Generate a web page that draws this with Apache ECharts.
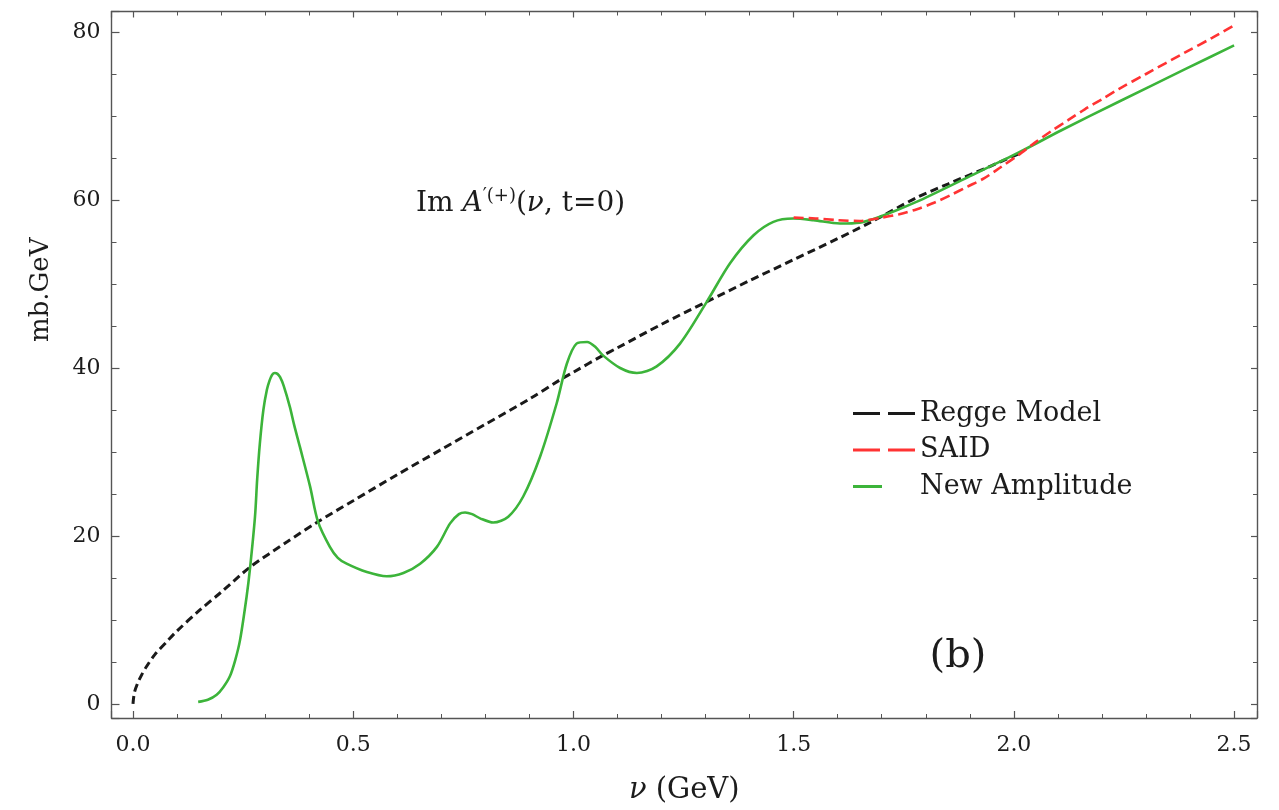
<!DOCTYPE html>
<html>
<head>
<meta charset="utf-8">
<title>Im A'(+)(ν, t=0)</title>
<script src="https://cdn.jsdelivr.net/npm/echarts@6/dist/echarts.min.js"></script>
<style>
  html, body { margin: 0; padding: 0; background: #ffffff; }
  #chart { width: 1279px; height: 810px; }
</style>
</head>
<body>
<div id="chart"></div>
<script>
// Regge model (black dashed)
const reggeNu  = [0, 0.003, 0.01, 0.02, 0.03, 0.05, 0.08, 0.1, 0.15, 0.2, 0.266, 0.35, 0.42, 0.5, 0.6, 0.7, 0.8, 0.9, 0.97, 1.0, 1.067, 1.1, 1.2, 1.303, 1.4, 1.5, 1.6, 1.673, 1.78, 1.85, 1.95, 2.015];
const reggeVal = [0, 1.3, 2.4, 3.5, 4.4, 5.9, 7.6, 8.7, 11.1, 13.3, 16.3, 19.3, 21.7, 24.2, 27.3, 30.3, 33.3, 36.3, 38.6, 39.5, 41.5, 42.4, 45.2, 47.9, 50.4, 52.9, 55.4, 57.3, 60.3, 61.9, 64.1, 65.6];

// SAID (red dashed)
const saidNu  = [1.5, 1.55, 1.6, 1.65, 1.7, 1.74, 1.78, 1.82, 1.857, 1.895, 1.933, 1.97, 2.009, 2.047, 2.085, 2.123, 2.161, 2.2, 2.238, 2.3, 2.39, 2.45, 2.5];
const saidVal = [57.9, 57.8, 57.6, 57.5, 57.9, 58.3, 58.9, 59.7, 60.6, 61.6, 62.6, 63.9, 65.3, 66.8, 68.2, 69.5, 70.8, 72.0, 73.2, 75.0, 77.6, 79.3, 80.8];

// New amplitude (green solid)
const newAmpNu  = [0.148, 0.17, 0.19, 0.205, 0.22, 0.232, 0.243, 0.258, 0.266, 0.277, 0.282, 0.288, 0.296, 0.304, 0.31, 0.316, 0.322, 0.328, 0.334, 0.342, 0.356, 0.366, 0.379, 0.402, 0.42, 0.447, 0.465, 0.485, 0.531, 0.576, 0.614, 0.652, 0.69, 0.72, 0.74, 0.754, 0.77, 0.788, 0.818, 0.852, 0.886, 0.924, 0.962, 0.985, 1.007, 1.031, 1.05, 1.067, 1.106, 1.144, 1.189, 1.242, 1.303, 1.356, 1.409, 1.454, 1.499, 1.545, 1.605, 1.65, 1.696, 1.78, 1.895, 2.009, 2.108, 2.238, 2.39, 2.5];
const newAmpVal = [0.25, 0.5, 1.1, 2.0, 3.3, 5.2, 7.6, 12.8, 16.3, 22.3, 26.8, 31.0, 35.0, 37.4, 38.5, 39.2, 39.4, 39.3, 38.9, 37.9, 35.4, 33.2, 30.6, 25.9, 21.7, 18.7, 17.4, 16.7, 15.7, 15.2, 15.6, 16.7, 18.7, 21.5, 22.6, 22.8, 22.6, 22.1, 21.6, 22.3, 24.7, 29.4, 35.8, 40.5, 42.9, 43.1, 42.5, 41.5, 40.0, 39.4, 40.2, 42.9, 47.9, 52.5, 55.8, 57.4, 57.8, 57.6, 57.2, 57.3, 58.0, 59.8, 62.7, 65.6, 68.3, 71.7, 75.6, 78.4];

// Axis ranges and labels
const xRange = [-0.0488, 2.552];
const yRange = [-1.67, 82.44];
const xTickLabels = [0.0, 0.5, 1.0, 1.5, 2.0, 2.5];
const yTickLabels = [0, 20, 40, 60, 80];
const legendNames = ['Regge Model', 'SAID', 'New Amplitude'];

const zip = (a, b) => a.map((v, i) => [v, b[i]]);

const FONT = 'DejaVu Serif';
const FRAME = '#555555';
const TEXT = '#1c1c1c';

function isTick(list, v) {
  return list.some(t => Math.abs(t - v) < 1e-6);
}

// legend keys: two long dashes, or one short solid stroke (the trailing
// zero-width box keeps the key 62 px wide so all keys line up)
const ICON_DASHED = 'path://M0,0h27v3h-27z M35,0h27v3h-27z';
const ICON_SHORT  = 'path://M0,0h29v3h-29z M62,0h0v3h0z';

const frameAxisCommon = {
  type: 'value',
  axisLine: { show: true, onZero: false, lineStyle: { color: FRAME, width: 1.4 } },
  splitLine: { show: false },
};

const chart = echarts.init(document.getElementById('chart'), null, { renderer: 'canvas' });

chart.setOption({
  animation: false,
  backgroundColor: '#ffffff',
  title: {
    left: 416,
    top: 187,
    padding: 0,
    text: '{n|Im }{i|A}{s|\u2032(+)}{n|(}{i|\u03bd}{n|, t=0)}',
    textStyle: {
      fontWeight: 'normal',
      rich: {
        n: { fontFamily: FONT, fontSize: 28, fontWeight: 'normal', color: TEXT, lineHeight: 33, verticalAlign: 'middle' },
        i: { fontFamily: FONT, fontSize: 28, fontWeight: 'normal', fontStyle: 'italic', color: TEXT, lineHeight: 33, verticalAlign: 'middle' },
        s: { fontFamily: FONT, fontSize: 18, fontWeight: 'normal', color: TEXT, lineHeight: 18, verticalAlign: 'top' }
      }
    }
  },
  grid: {
    left: 111.5, right: 22, top: 11.5, bottom: 92,
    containLabel: false, outerBoundsMode: 'none'
  },
  legend: {
    orient: 'vertical',
    left: 853,
    top: 400,
    padding: 0,
    itemWidth: 62,
    itemHeight: 3,
    itemGap: 9.5,
    itemTextGap: 33,
    selectedMode: false,
    itemStyle: { borderWidth: 0 },
    textStyle: { fontFamily: FONT, fontSize: 27, color: TEXT },
    data: [
      { name: legendNames[0], icon: ICON_DASHED },
      { name: legendNames[1], icon: ICON_DASHED },
      { name: legendNames[2], icon: ICON_SHORT }
    ]
  },
  xAxis: [
    Object.assign({}, frameAxisCommon, {
      position: 'bottom',
      min: xRange[0], max: xRange[1],
      splitNumber: 5,
      axisTick: { show: true, inside: true, length: 7, lineStyle: { color: FRAME, width: 1.2 } },
      minorTick: { show: true, splitNumber: 5, length: 4, lineStyle: { color: FRAME, width: 1 } },
      axisLabel: {
        margin: 16, fontFamily: FONT, fontSize: 22, color: TEXT,
        showMinLabel: false, showMaxLabel: false,
        formatter: v => isTick(xTickLabels, v) ? v.toFixed(1) : ''
      },
      name: '{i|\u03bd} (GeV)',
      nameLocation: 'middle',
      nameGap: 58,
      nameTextStyle: {
        fontFamily: FONT, fontSize: 29, color: TEXT,
        rich: { i: { fontFamily: FONT, fontSize: 29, fontStyle: 'italic', color: TEXT } }
      }
    }),
    Object.assign({}, frameAxisCommon, {
      position: 'top',
      min: xRange[0], max: xRange[1],
      splitNumber: 5,
      axisTick: { show: true, inside: true, length: 6, lineStyle: { color: FRAME, width: 1.2 } },
      minorTick: { show: true, splitNumber: 5, length: 4, lineStyle: { color: FRAME, width: 1 } },
      axisLabel: { show: false }
    })
  ],
  yAxis: [
    Object.assign({}, frameAxisCommon, {
      position: 'left',
      min: yRange[0], max: yRange[1],
      splitNumber: 4,
      axisTick: { show: true, inside: true, length: 8, lineStyle: { color: FRAME, width: 1.2 } },
      minorTick: { show: true, splitNumber: 4, length: 5, lineStyle: { color: FRAME, width: 1 } },
      axisLabel: {
        margin: 11, fontFamily: FONT, fontSize: 22, color: TEXT,
        showMinLabel: false, showMaxLabel: false,
        formatter: v => isTick(yTickLabels, v) ? String(Math.round(v)) : ''
      },
      name: 'mb.GeV',
      nameLocation: 'middle',
      nameGap: 57,
      nameTextStyle: { fontFamily: FONT, fontSize: 26, color: TEXT, padding: [0, 0, 0, 150] }
    }),
    Object.assign({}, frameAxisCommon, {
      position: 'right',
      min: yRange[0], max: yRange[1],
      splitNumber: 4,
      axisTick: { show: true, inside: true, length: 6, lineStyle: { color: FRAME, width: 1.2 } },
      minorTick: { show: true, splitNumber: 4, length: 4, lineStyle: { color: FRAME, width: 1 } },
      axisLabel: { show: false }
    })
  ],
  graphic: [
    {
      type: 'text',
      x: 958, y: 657,
      style: {
        text: '(b)', fontFamily: FONT, fontSize: 40, fill: TEXT,
        align: 'center', verticalAlign: 'middle'
      }
    }
  ],
  series: [
    {
      name: legendNames[0],
      type: 'line',
      xAxisIndex: 0, yAxisIndex: 0,
      data: zip(reggeNu, reggeVal),
      symbol: 'none',
      smooth: 0.3,
      color: '#1a1a1a',
      lineStyle: { color: '#1a1a1a', width: 3, type: [8, 4.5] },
      z: 2
    },
    {
      name: legendNames[2],
      type: 'line',
      xAxisIndex: 0, yAxisIndex: 0,
      data: zip(newAmpNu, newAmpVal),
      symbol: 'none',
      smooth: 0.3,
      color: '#3cb43a',
      lineStyle: { color: '#3cb43a', width: 2.6, type: 'solid' },
      z: 3
    },
    {
      name: legendNames[1],
      type: 'line',
      xAxisIndex: 0, yAxisIndex: 0,
      data: zip(saidNu, saidVal),
      symbol: 'none',
      smooth: 0.3,
      color: '#ff3333',
      lineStyle: { color: '#ff3333', width: 2.6, type: [10, 5] },
      z: 4
    }
  ]
});
</script>
</body>
</html>
